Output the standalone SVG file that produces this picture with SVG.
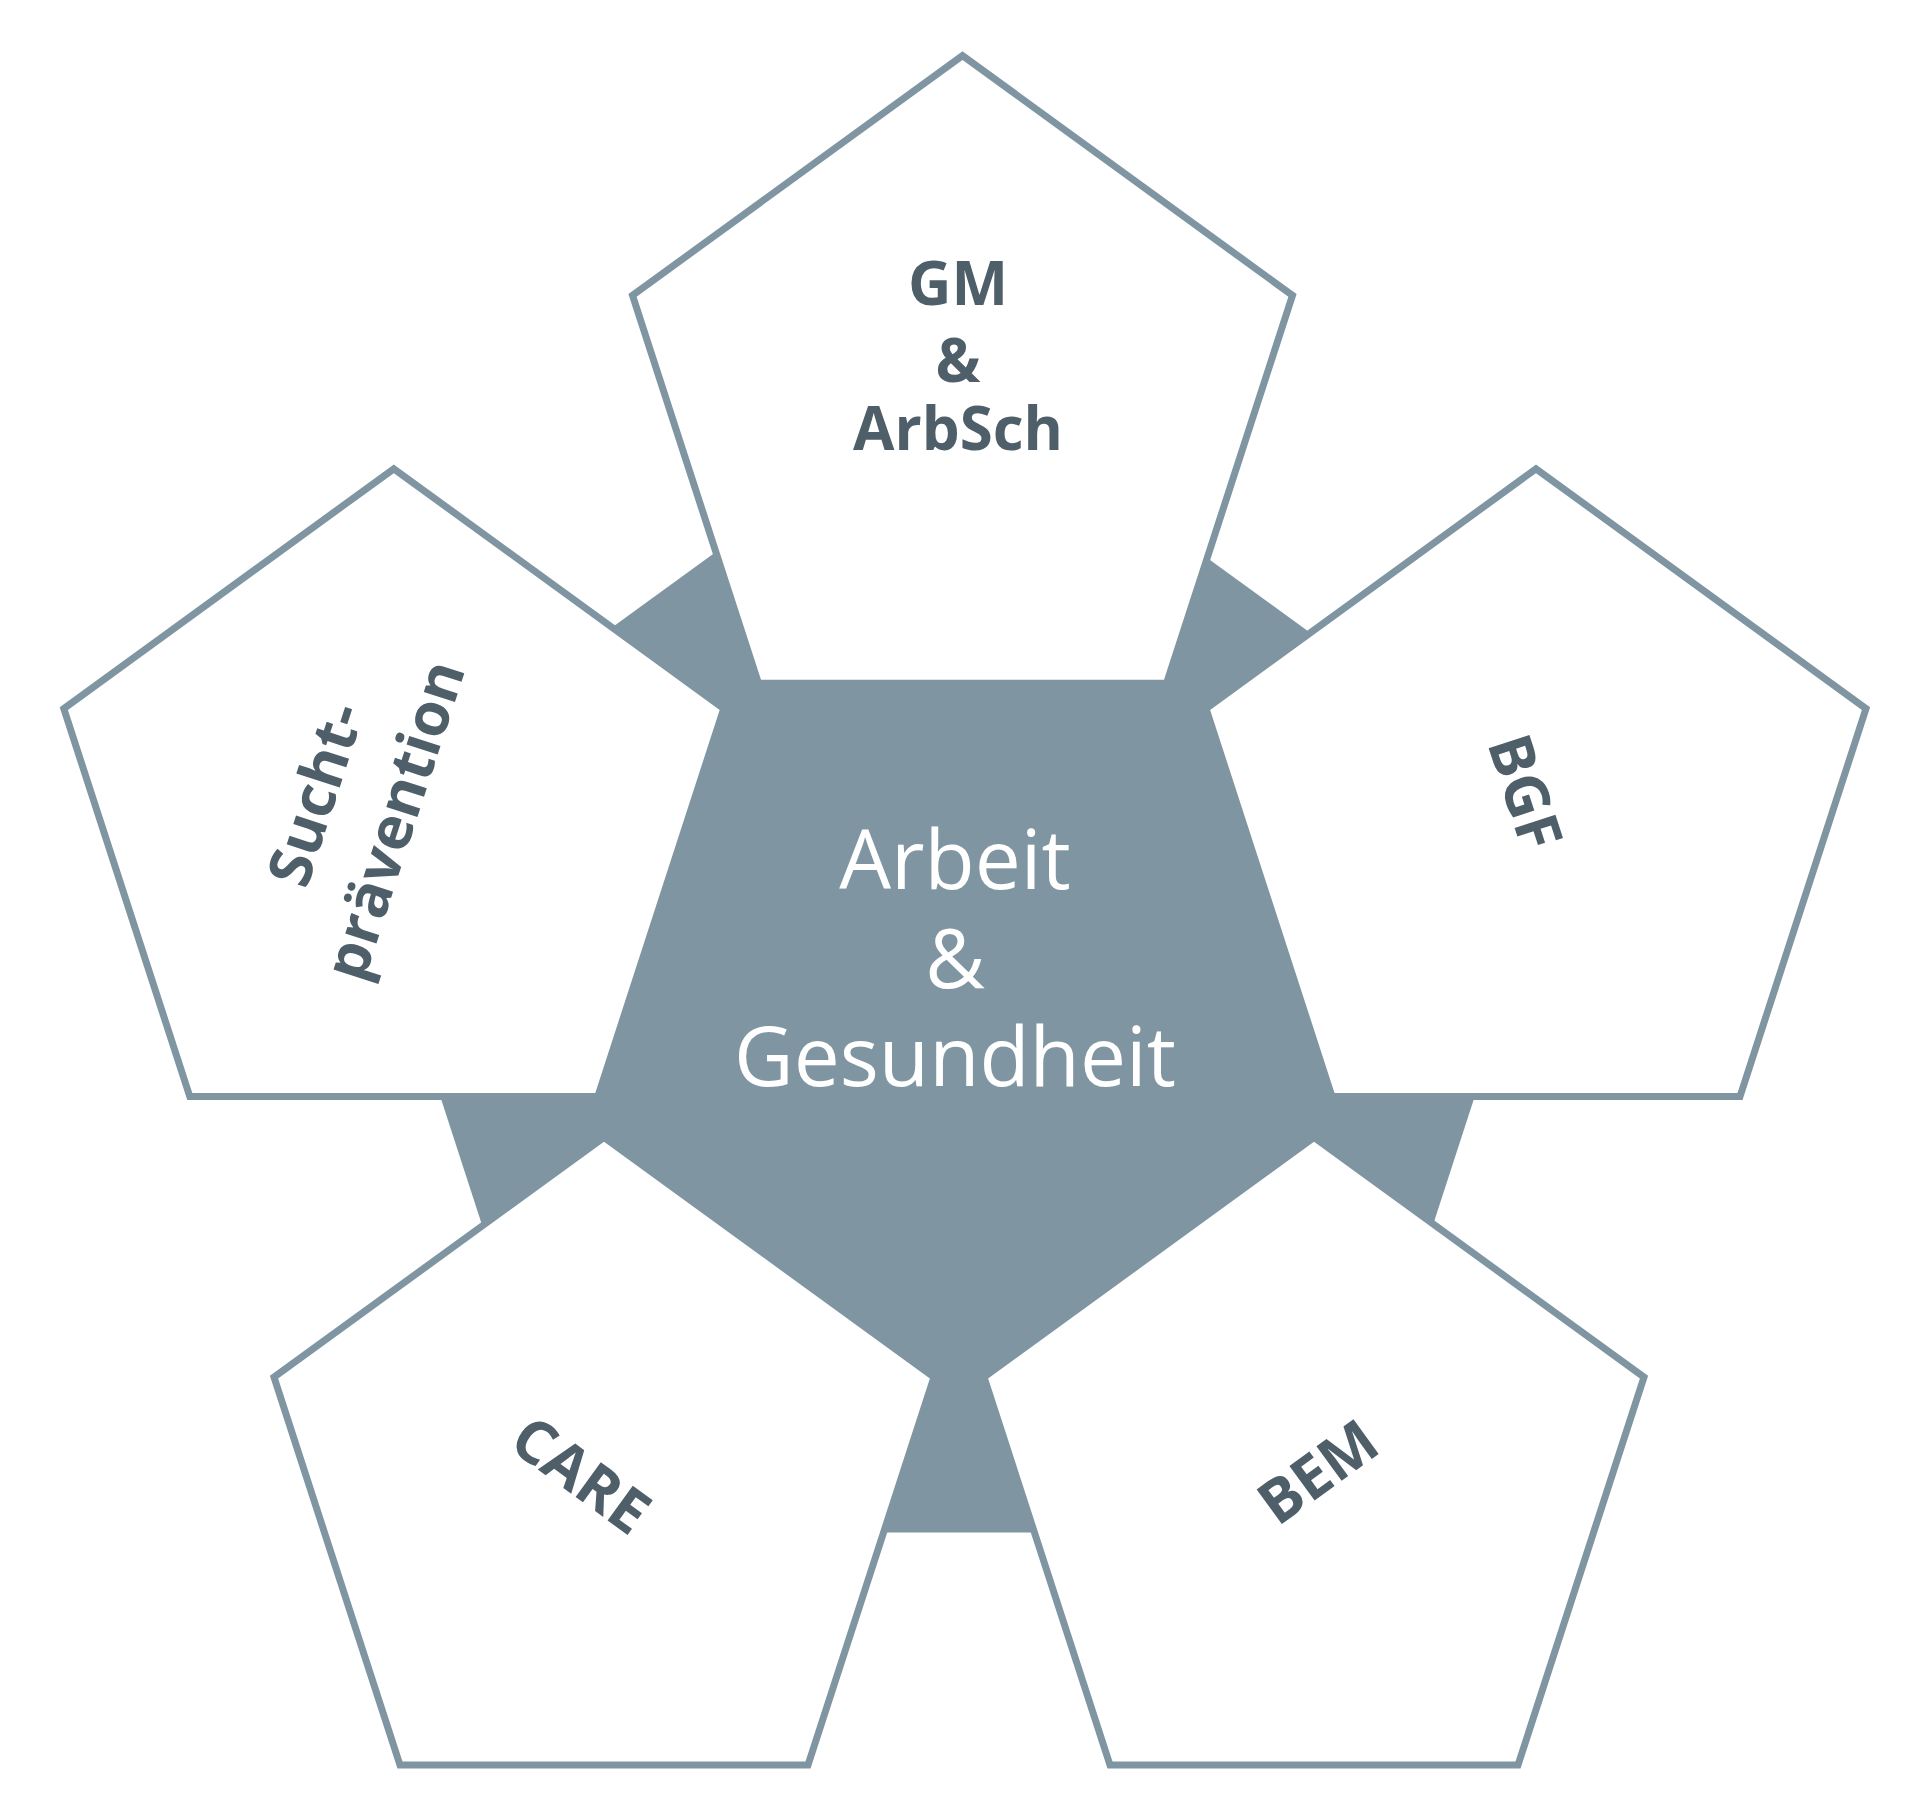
<svg xmlns="http://www.w3.org/2000/svg" xmlns:xlink="http://www.w3.org/1999/xlink" width="1920" height="1815" viewBox="0 0 1920 1815">
  <style>
    .pent { fill: #ffffff; stroke: #7f95a2; stroke-width: 7; stroke-linejoin: miter; }
    .core { fill: #7f95a2; }
    .lbl { font-family: "Open Sans", "Noto Sans", "DejaVu Sans", sans-serif; font-weight: 700; font-size: 60px; fill: #4f5f69; text-anchor: middle; }
    .center { font-family: "Open Sans", "Noto Sans", "DejaVu Sans", sans-serif; font-weight: 400; font-size: 82px; fill: #ffffff; text-anchor: middle; }
  </style>
  <defs>
    <polygon id="pentShape" points="0,-347 330,-107.2 204,280.7 -204,280.7 -330,-107.2"/>
  </defs>
  <rect x="0" y="0" width="1920" height="1815" fill="#ffffff"/>

  <g id="core">
    <polygon class="core" points="957.5,376.5 1565.2,818 1333.1,1532.5 581.9,1532.5 349.8,818"/>
    <text class="center" x="955" y="889">Arbeit</text>
    <text class="center" x="955" y="988">&amp;</text>
    <text class="center" x="955" y="1086">Gesundheit</text>
  </g>

  <g id="connectors"></g>

  <g id="node-gm">
    <use xlink:href="#pentShape" href="#pentShape" class="pent" x="962.5" y="402.6"/>
    <text class="lbl" x="958" y="305">GM</text>
    <text class="lbl" x="958" y="382">&amp;</text>
    <text class="lbl" x="958" y="450">ArbSch</text>
  </g>

  <g id="node-bgf">
    <use xlink:href="#pentShape" href="#pentShape" class="pent" x="1536" y="815.8"/>
    <text class="lbl" transform="translate(1525,792) rotate(72)" x="0" y="21">BGF</text>
  </g>

  <g id="node-bem">
    <use xlink:href="#pentShape" href="#pentShape" class="pent" x="1314" y="1484.4"/>
    <text class="lbl" transform="translate(1318,1472) rotate(-36)" x="0" y="21">BEM</text>
  </g>

  <g id="node-care">
    <use xlink:href="#pentShape" href="#pentShape" class="pent" x="604" y="1484.4"/>
    <text class="lbl" transform="translate(581,1475) rotate(36)" x="0" y="21">CARE</text>
  </g>

  <g id="node-sucht">
    <use xlink:href="#pentShape" href="#pentShape" class="pent" x="393.8" y="815.8"/>
    <g transform="translate(354.5,807) rotate(-72)">
      <text class="lbl" x="0" y="-20">Sucht-</text>
      <text class="lbl" x="0" y="63">prävention</text>
    </g>
  </g>
</svg>
